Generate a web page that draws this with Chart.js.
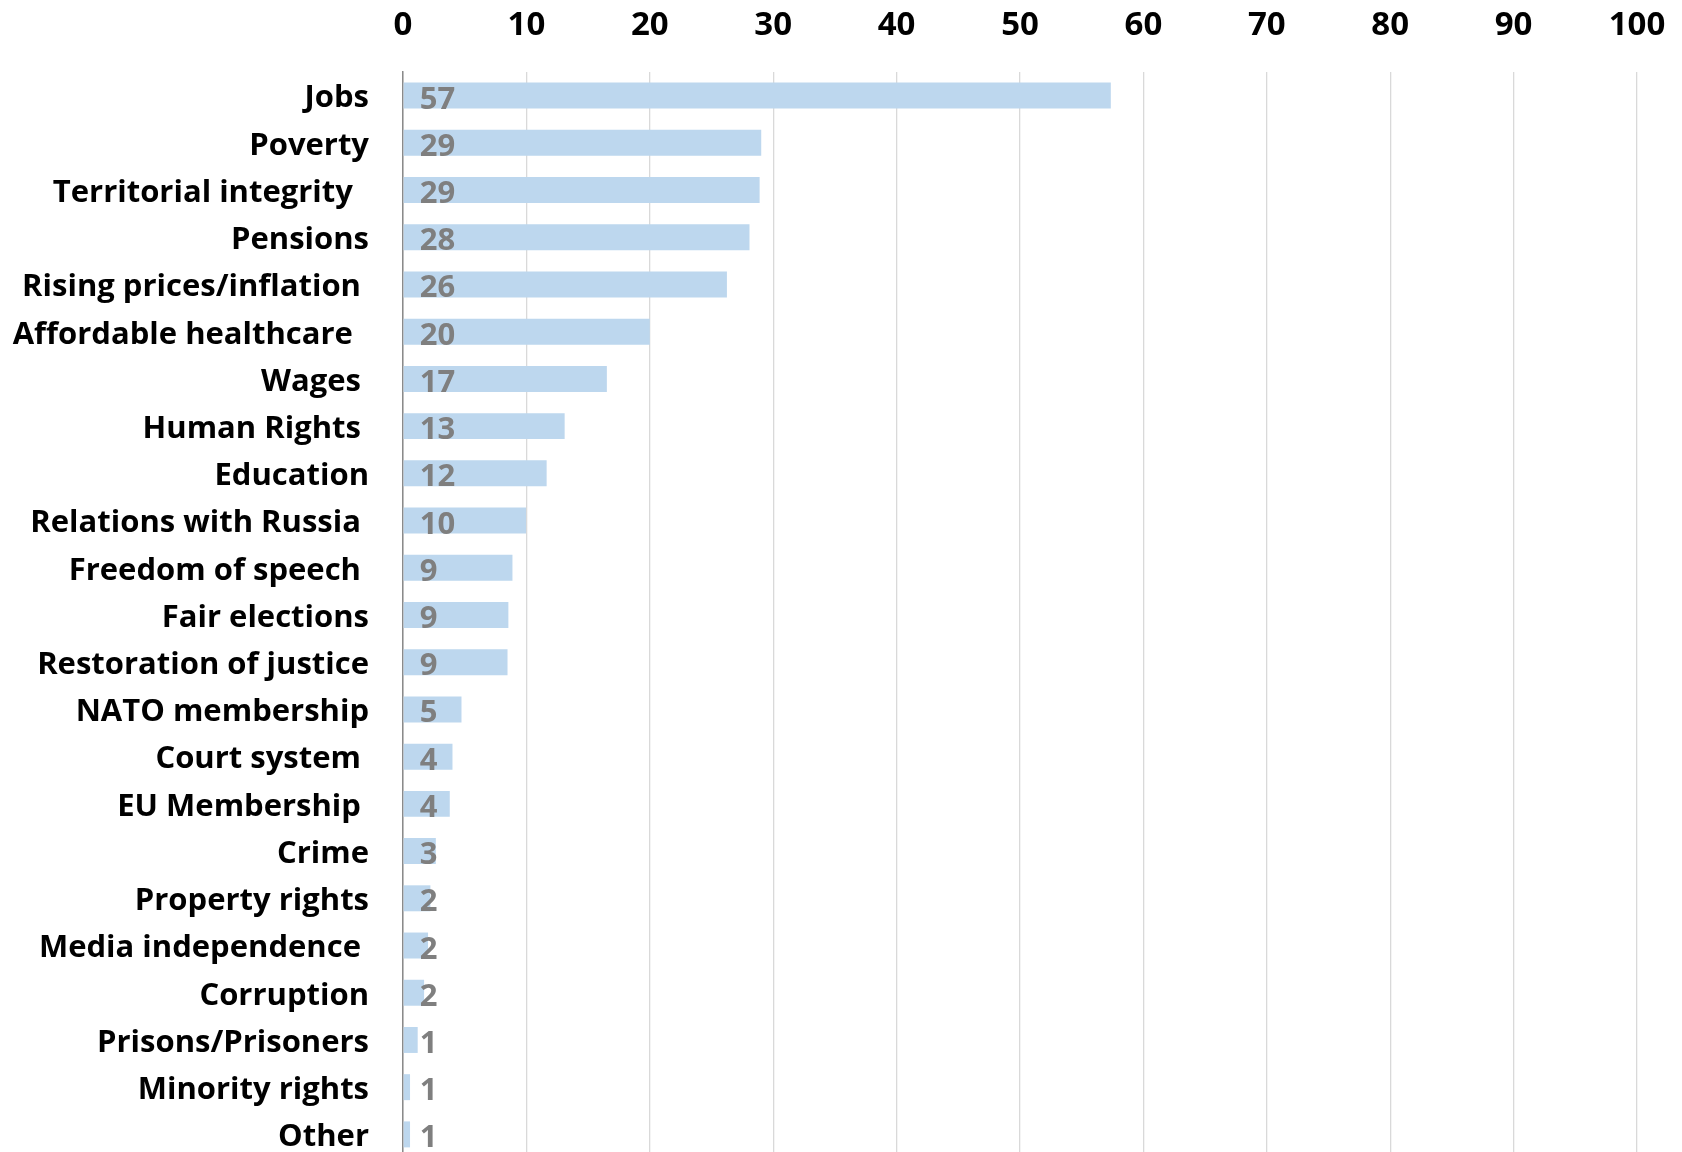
<!DOCTYPE html>
<html>
<head>
<meta charset="utf-8">
<script src="https://cdn.jsdelivr.net/npm/chart.js@4"></script>
<style>
  html, body { margin: 0; padding: 0; background: #fff; overflow: hidden; }
  #wrap { position: relative; width: 1682px; height: 1158px; }
</style>
</head>
<body>
<div id="wrap"><canvas id="c"></canvas></div>
<script>
const categories = [
  "Jobs", "Poverty", "Territorial integrity  ", "Pensions", "Rising prices/inflation ",
  "Affordable healthcare  ", "Wages ", "Human Rights ", "Education", "Relations with Russia ",
  "Freedom of speech ", "Fair elections", "Restoration of justice", "NATO membership",
  "Court system ", "EU Membership ", "Crime", "Property rights", "Media independence ",
  "Corruption", "Prisons/Prisoners", "Minority rights", "Other"
];
const values = [57.36, 29.03, 28.9, 28.08, 26.25, 20.0, 16.52, 13.1, 11.64, 9.97, 8.87, 8.54, 8.47,
  4.74, 4.01, 3.79, 2.66, 2.22, 2.03, 1.71, 1.19, 0.57, 0.57];
const valueLabels = ["57", "29", "29", "28", "26", "20", "17", "13", "12", "10", "9", "9", "9",
  "5", "4", "4", "3", "2", "2", "2", "1", "1", "1"];
const axisMin = 0, axisMax = 100, axisStep = 10;

const FONT = "'Open Sans'";
const FS = 31;

const labelPlugin = {
  id: "valueLabels",
  afterDatasetsDraw(chart) {
    const ctx = chart.ctx;
    const meta = chart.getDatasetMeta(0);
    ctx.save();
    ctx.font = "bold " + FS + "px " + FONT;
    ctx.fillStyle = "#7f7f7f";
    ctx.textAlign = "left";
    ctx.textBaseline = "alphabetic";
    meta.data.forEach((el, i) => {
      ctx.fillText(valueLabels[i], el.base + 16, el.y + 13);
    });
    ctx.restore();
  }
};

new Chart(document.getElementById("c"), {
  type: "bar",
  data: {
    labels: categories,
    datasets: [{
      data: values,
      backgroundColor: "#BDD7EE",
      borderWidth: 0,
      categoryPercentage: 0.55,
      barPercentage: 1.0
    }]
  },
  options: {
    indexAxis: "y",
    responsive: true,
    maintainAspectRatio: false,
    animation: false,
    layout: { padding: { top: 5, right: 45, bottom: 0, left: 0 } },
    plugins: { legend: { display: false }, tooltip: { enabled: false } },
    scales: {
      x: {
        position: "top",
        min: axisMin, max: axisMax,
        ticks: { stepSize: axisStep, color: "#000", padding: 27,
          font: { family: FONT, size: 33, weight: "bold" } },
        grid: { color: "#d9d9d9", lineWidth: 1.3, drawTicks: false },
        border: { display: false },
        afterFit(s) { s.height = 67; s.paddingLeft = 0; s.paddingRight = 0; }
      },
      y: {
        ticks: { color: "#000", padding: 34, autoSkip: false, labelOffset: 3,
          font: { family: FONT, size: FS, weight: "bold" } },
        grid: { display: false, drawTicks: false },
        border: { display: true, color: "#8a8a8a", width: 1.5 },
        afterFit(s) { s.width = 403; s.paddingTop = 0; s.paddingBottom = 0; }
      }
    }
  },
  plugins: [labelPlugin]
});
</script>
</body>
</html>
